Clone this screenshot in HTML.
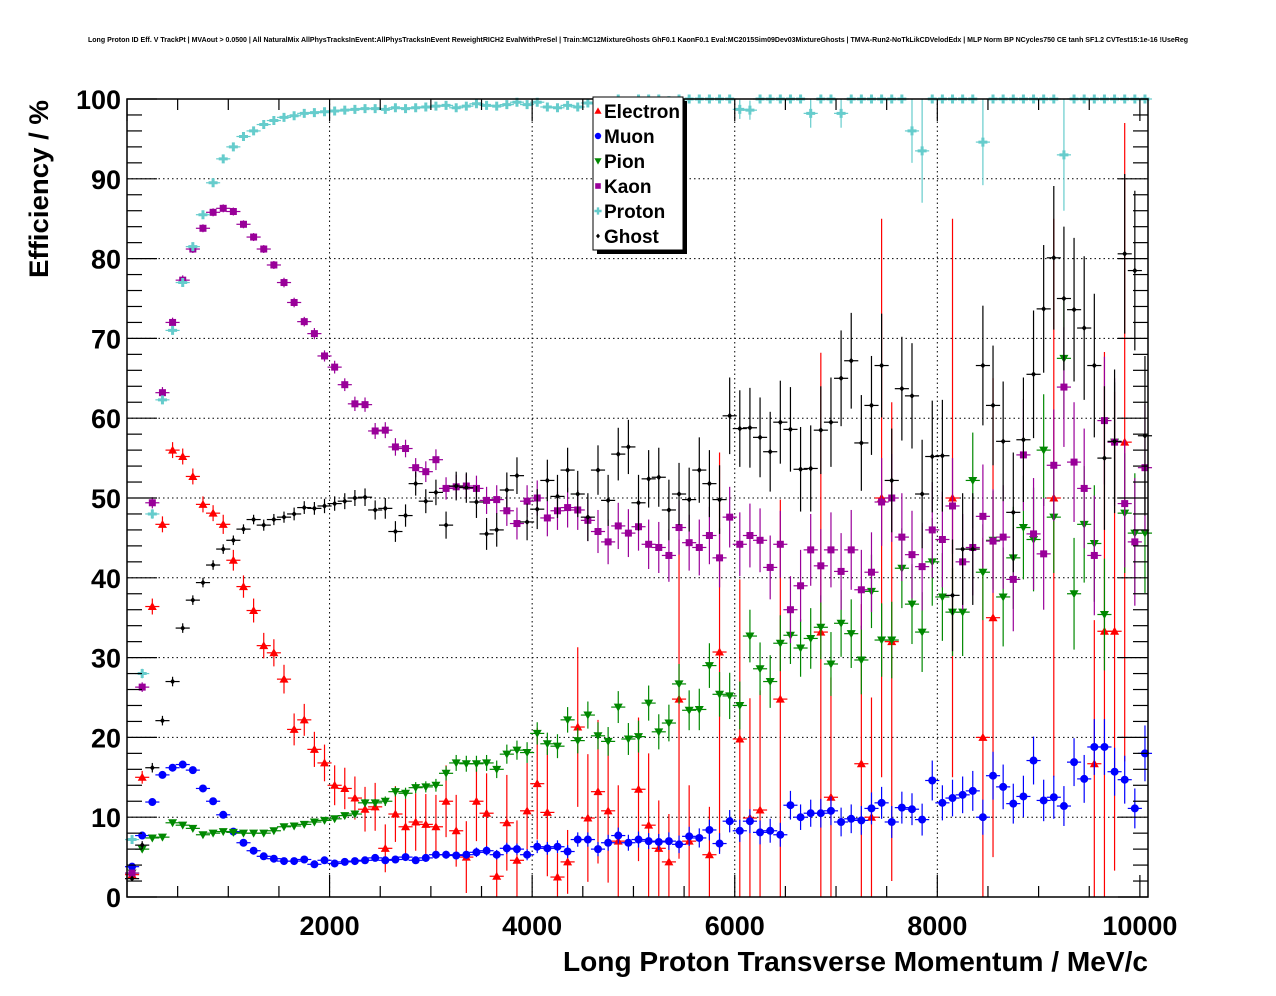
<!DOCTYPE html>
<html><head><meta charset="utf-8"><style>
html,body{margin:0;padding:0;background:#fff;}
svg{display:block;font-family:"Liberation Sans",Arial,sans-serif;}
</style></head><body>
<svg id="chart" width="1276" height="996" viewBox="0 0 1276 996" xmlns="http://www.w3.org/2000/svg">
<rect width="1276" height="996" fill="#fff"/>
<text x="88" y="42" font-size="7" font-weight="bold" textLength="1100" lengthAdjust="spacingAndGlyphs">Long Proton ID Eff. V TrackPt | MVAout &gt; 0.0500 | All NaturalMix AllPhysTracksInEvent:AllPhysTracksInEvent ReweightRICH2 EvalWithPreSel | Train:MC12MixtureGhosts GhF0.1 KaonF0.1 Eval:MC2015Sim09Dev03MixtureGhosts | TMVA-Run2-NoTkLikCDVelodEdx | MLP Norm BP NCycles750 CE tanh SF1.2 CVTest15:1e-16 !UseReg</text>
<g id="grid"></g>
<g id="series"></g>
<rect x="127" y="99" width="1021" height="798" fill="none" stroke="#000" stroke-width="1.5"/>
<g id="axes"></g>
<text transform="translate(48,278) rotate(-90)" font-size="27" font-weight="bold" textLength="178" lengthAdjust="spacingAndGlyphs">Efficiency / %</text>
<text x="563" y="971" font-size="28" font-weight="bold" textLength="585" lengthAdjust="spacingAndGlyphs">Long Proton Transverse Momentum / MeV/c</text>
<g>
<rect x="597" y="101" width="90" height="153" fill="#000"/>
<rect x="593" y="97" width="90" height="153" fill="#fff" stroke="#000" stroke-width="1"/>
<g id="legend-items"></g>
</g>
</svg>
<script>
const X0=127, X1=1148, XMAX=10080, Y0=897, Y1=99;
const sx=v=>X0+(v/XMAX)*(X1-X0);
const sy=v=>Y0-(v/100)*(Y0-Y1);
const NS='http://www.w3.org/2000/svg';

const binCenters=[];for(let i=0;i<101;i++)binCenters.push(50+100*i);
const xTicks=[2000,4000,6000,8000,10000];
const xTickLabels=["2000","4000","6000","8000","10000"];
const yTicks=[0,10,20,30,40,50,60,70,80,90,100];
const yTickLabels=["0","10","20","30","40","50","60","70","80","90","100"];

const electron=[2.8,15,36.4,46.7,56,55.2,52.7,49.2,48.1,46.7,42.2,38.9,35.9,31.5,30.6,27.3,21,22.2,18.5,16.8,14,13.6,12.4,11,11.3,6.1,10.4,8.8,9.4,9.1,8.8,12,8.3,5,12,10.5,2.6,9.3,4.6,10.8,14.2,10.6,2.5,4.4,21.3,9.9,13.2,10.8,7.0,null,13.5,9.0,6.1,4.4,24.8,7.0,null,5.3,30.7,null,19.8,9.9,10.9,null,24.8,null,null,null,33.2,12.5,null,null,16.7,10,50,32,null,null,null,null,null,50,null,null,20,35,null,null,null,null,null,50,null,null,null,16.7,33.3,33.3,57,null,null];
const electronErr=[0.4,0.8,1,1,1,1,1,1,1,1.2,1.3,1.4,1.5,1.6,1.7,1.8,2,2,2.2,2.3,2.5,2.6,2.7,2.8,3,3,3.5,3.5,3.6,3.8,4,4.5,4.5,4.5,5,5,3,6,5,6,7,8,3,4,10,8,9,9,7,0,9,9,6,6,20,7,0,6,25,0,20,15,15,0,25,0,0,0,35,15,0,0,20,15,35,30,0,0,0,0,0,35,0,0,25,30,0,0,0,0,0,35,0,0,0,18,35,30,40,0,0];
const muon=[3.8,7.7,11.9,15.3,16.2,16.6,15.9,13.6,12,10.3,8.2,6.8,5.8,5.1,4.8,4.5,4.5,4.7,4.1,4.6,4.2,4.4,4.5,4.6,4.9,4.6,4.7,5,4.6,4.9,5.3,5.3,5.2,5.3,5.6,5.8,5.3,6.1,6,5.3,6.3,6.1,6.3,5.7,7.2,7.2,6,6.8,7.7,6.8,7.2,7,6.9,7,6.6,7.6,7.4,8.4,6.7,9.5,8.3,9.5,8.1,8.3,7.8,11.5,10,10.5,10.5,10.8,9.4,9.8,9.6,11.1,11.8,9.4,11.2,11,9.7,14.6,11.8,12.4,12.8,13.3,10,15.2,13.8,11.7,12.6,17.1,12.1,12.5,11.4,16.9,14.8,18.8,18.8,15.7,14.7,11.1,18];
const muonErr=[0.3,0.4,0.4,0.4,0.4,0.4,0.4,0.4,0.4,0.3,0.3,0.3,0.3,0.3,0.3,0.3,0.3,0.3,0.3,0.3,0.3,0.3,0.3,0.3,0.4,0.4,0.4,0.4,0.4,0.5,0.5,0.5,0.5,0.5,0.6,0.6,0.6,0.7,0.7,0.7,0.8,0.8,0.8,0.8,0.9,0.9,0.9,1,1,1,1,1,1,1.1,1.1,1.2,1.2,1.3,1.3,1.4,1.4,1.5,1.5,1.5,1.5,1.8,1.6,1.7,1.8,1.8,1.8,1.8,1.8,2,2,2,2,2,2,2.5,2.2,2.3,2.3,2.5,2.2,3,2.8,2.5,2.6,3,2.6,2.7,2.5,3,3,3.5,3.5,3,3,2.5,3.5];
const pion=[3,6,7.4,7.5,9.3,9,8.6,7.8,8,8.2,8.1,8,8,8,8.3,8.8,8.9,9.1,9.4,9.6,9.8,10.2,10.4,11.8,11.8,12,13.2,13,13.7,13.8,14,15.5,16.8,16.7,16.7,16.8,16,17.9,18.4,18.1,20.5,19.2,18.9,22.2,19.6,22.8,20.2,19.5,23.8,19.8,20.1,24.3,20.7,21.8,26.7,23.4,23.5,29,25.4,25.2,24,32.7,28.6,27,31.8,32.8,31.2,32.4,33.8,29.2,34.3,33,29.7,38.3,32.2,32.2,41.2,36.7,33.2,42,37.6,35.7,35.7,52.2,40.7,44.7,37.6,42.5,46.3,44.8,56,47.6,67.5,38,46.7,44.3,35.4,57,48.1,45.6,45.6];
const pionErr=[0.3,0.4,0.4,0.4,0.4,0.4,0.4,0.3,0.3,0.3,0.3,0.3,0.3,0.3,0.3,0.3,0.3,0.3,0.3,0.4,0.4,0.4,0.4,0.5,0.5,0.6,0.6,0.7,0.7,0.7,0.8,0.9,1,1,1,1,1.1,1.2,1.2,1.3,1.4,1.4,1.5,1.6,1.6,1.7,1.7,1.8,2,2,2,2.2,2.2,2.3,2.5,2.5,2.6,2.8,2.8,2.9,3,3.3,3.3,3.3,3.5,3.6,3.6,3.8,4,4,4.2,4.3,4.3,4.6,4.6,4.8,5,5,5,5.5,5.5,5.5,5.5,6,6,6.2,6.2,6.4,6.5,6.5,7,7,7.5,7,7.3,7.3,7,7.5,7.5,7.5,7.5];
const kaon=[3,26.3,49.4,63.2,72,77.3,81.2,83.8,85.8,86.3,85.9,84.3,82.7,81.2,79.2,77,74.5,72.1,70.6,67.8,66.4,64.2,61.8,61.7,58.4,58.5,56.4,56.2,53.8,53.3,54.8,51.2,51.4,51.5,51.2,49.7,49.8,48.4,46.8,49.6,50,47.5,48.4,48.8,48.5,47.2,45.8,44.5,46.5,45.6,46.4,44.2,43.8,42.8,46.3,44.4,43.8,45.3,42.5,47.6,44.2,45.3,44.7,41.3,44.2,36,39,43.5,41.5,43.5,40.8,43.5,38.5,40.7,49.5,50,45.1,42.9,41.4,46,44.8,49,42,43.8,47.7,44.6,45.1,39.8,55.4,45.5,43,54.1,63.9,54.5,51.2,42.8,59.7,57,49.3,44.5,53.8];
const kaonErr=[0.3,0.6,0.7,0.7,0.6,0.6,0.5,0.5,0.5,0.5,0.5,0.5,0.5,0.5,0.5,0.6,0.6,0.6,0.7,0.7,0.8,0.8,0.9,0.9,1,1,1.1,1.1,1.2,1.3,1.3,1.4,1.5,1.5,1.6,1.7,1.8,1.9,2,2,2.2,2.3,2.4,2.5,2.5,2.6,2.7,2.8,2.9,3,3,3.1,3.2,3.3,3.4,3.5,3.5,3.6,3.7,3.8,4,4,4,4,4.2,4.2,4.5,4.5,4.6,4.7,4.8,5,5,5,5.5,5.5,5.5,5.5,5.5,6,6,6,6,6,6.5,6.5,6.5,6.5,7,7,7,7,7.5,7.5,7.5,7.5,8,8,8,8,8];
const proton=[7.2,28,48,62.3,71,77,81.5,85.5,89.5,92.5,94,95.3,96,96.8,97.3,97.7,97.9,98.2,98.3,98.4,98.5,98.6,98.7,98.8,98.8,98.7,98.9,98.8,98.9,99,99.1,99.2,98.9,99.1,99.4,99.2,99.1,99.3,99.6,99.3,99.6,99,98.9,99.2,99,99.5,99.4,99.7,100,99.6,100,100,100,99.8,100,100,100,100,100,100,98.7,98.6,100,100,100,100,100,98.2,100,100,98.2,100,100,100,100,100,100,96,93.5,100,100,100,100,100,94.6,100,100,100,100,100,100,100,93,100,100,100,100,100,100,100,100];
const protonErr=[0.4,0.6,0.6,0.5,0.4,0.4,0.3,0.3,0.2,0.2,0.2,0.2,0.2,0.2,0.2,0.2,0.2,0.2,0.2,0.2,0.2,0.2,0.2,0.2,0.2,0.2,0.2,0.2,0.2,0.2,0.2,0.2,0.3,0.3,0.3,0.3,0.3,0.3,0.3,0.3,0.3,0.4,0.4,0.4,0.4,0.4,0.4,0.4,0,0.4,0,0,0,0.5,0,0,0,0,0,0,1.2,1.2,0,0,0,0,0,1.8,0,0,1.8,0,0,0,0,0,0,4,6.5,0,0,0,0,0,5.4,0,0,0,0,0,0,0,7,0,0,0,0,0,0,0,0];
const ghost=[2.3,6.5,16.2,22.1,27,33.7,37.2,39.4,41.6,43.6,44.7,46.1,47.3,46.6,47.3,47.6,48,48.8,48.7,49,49.3,49.6,50,50.1,48.5,48.7,45.8,47.8,51.8,49.6,50.7,46.6,51.5,51.3,49.5,45.5,46,51,52.8,47,48.6,52.2,50.2,53.5,50.5,47.6,53.5,49.7,55.5,56.4,49.4,52.4,52.6,48.5,50.5,49.8,53.5,51.8,49.8,60.3,58.7,58.8,57.6,55.8,59.5,58.6,53.6,53.7,58.5,59.5,65,67.2,56.9,61.6,66.6,52.2,63.7,62.8,50.5,55.2,55.3,37.8,43.6,43.6,66.6,61.6,57.1,48.2,57.3,65.5,73.7,80.1,75,73.6,71.3,66.6,55,57.1,80.6,78.5,57.8];
const ghostErr=[0.3,0.5,0.6,0.6,0.6,0.6,0.6,0.6,0.6,0.6,0.6,0.6,0.6,0.7,0.7,0.7,0.8,0.8,0.8,0.9,0.9,1,1,1.1,1.2,1.3,1.3,1.4,1.5,1.5,1.6,1.7,1.8,1.9,2,2,2.1,2.2,2.3,2.3,2.5,2.6,2.7,2.8,2.9,3,3.1,3.2,3.3,3.4,3.5,3.6,3.7,3.8,3.9,4,4.1,4.2,4.3,4.8,4.8,5,5,5,5.2,5.3,5.3,5.4,5.5,5.6,6,6,6,6.2,6.5,6.5,6.5,6.6,6.8,7,7,7,7,7,7.5,7.5,7.5,7.5,7.8,8,8,9,9,9,9,9,9,9,10,10,10];

const svg=document.getElementById('chart');
const grid=document.getElementById('grid');
const axes=document.getElementById('axes');
function mk(tag,attrs,parent){const e=document.createElementNS(NS,tag);for(const k in attrs)e.setAttribute(k,attrs[k]);parent.appendChild(e);return e;}

xTicks.forEach(t=>{if(t<XMAX-100){const l=mk('line',{x1:sx(t),x2:sx(t),y1:Y1,y2:Y0,stroke:'#000','stroke-width':1,'stroke-dasharray':'1.5,3'},grid);

}});
yTicks.forEach(t=>{if(t>0&&t<100){const l=mk('line',{x1:X0,x2:X1,y1:sy(t),y2:sy(t),stroke:'#000','stroke-width':1,'stroke-dasharray':'1.5,3'},grid);

}});

for(let v=0;v<=XMAX;v+=500){const major=v%2000===0;const len=major?22:11;
mk('line',{x1:sx(v),x2:sx(v),y1:Y0,y2:Y0-len,stroke:'#000','stroke-width':1.2},axes);
mk('line',{x1:sx(v),x2:sx(v),y1:Y1,y2:Y1+len,stroke:'#000','stroke-width':1.2},axes);}
for(let v=0;v<=100;v+=2){const major=v%10===0;const len=major?30:15;
mk('line',{x1:X0,x2:X0+len,y1:sy(v),y2:sy(v),stroke:'#000','stroke-width':1.2},axes);
mk('line',{x1:X1,x2:X1-len,y1:sy(v),y2:sy(v),stroke:'#000','stroke-width':1.2},axes);}
xTicks.forEach((t,i)=>{const tx=mk('text',{x:sx(t),y:935,'font-size':27,'font-weight':'bold','text-anchor':'middle'},axes);tx.textContent=xTickLabels[i];

});
yTicks.forEach((t,i)=>{const tx=mk('text',{x:121,y:sy(t)+10,'font-size':27,'font-weight':'bold','text-anchor':'end'},axes);tx.textContent=yTickLabels[i];

});

function marker(type,cx,cy,color,parent,s){s=s||1;
 if(type==='tri') return mk('polygon',{points:`${cx},${cy-4.5*s} ${cx-4.5*s},${cy+3.5*s} ${cx+4.5*s},${cy+3.5*s}`,fill:color},parent);
 if(type==='tridown') return mk('polygon',{points:`${cx},${cy+4.5*s} ${cx-4.5*s},${cy-3.5*s} ${cx+4.5*s},${cy-3.5*s}`,fill:color},parent);
 if(type==='circ') return mk('circle',{cx:cx,cy:cy,r:4*s,fill:color},parent);
 if(type==='sq') return mk('rect',{x:cx-3.5*s,y:cy-3.5*s,width:7*s,height:7*s,fill:color},parent);
 if(type==='cross') return mk('path',{d:`M${cx-4.5*s},${cy-1.5*s}h${3*s}v${-3*s}h${3*s}v${3*s}h${3*s}v${3*s}h${-3*s}v${3*s}h${-3*s}v${-3*s}h${-3*s}z`,fill:color},parent);
 return mk('path',{d:`M${cx},${cy-3*s}L${cx+2.5*s},${cy}L${cx},${cy+3*s}L${cx-2.5*s},${cy}z`,fill:color},parent);
}

const seriesDefs=[
 {name:'electron',vals:electron,err:electronErr,color:'#ff0000',m:'tri',label:'Electron'},
 {name:'muon',vals:muon,err:muonErr,color:'#0000ff',m:'circ',label:'Muon'},
 {name:'pion',vals:pion,err:pionErr,color:'#008800',m:'tridown',label:'Pion'},
 {name:'kaon',vals:kaon,err:kaonErr,color:'#990099',m:'sq',label:'Kaon'},
 {name:'proton',vals:proton,err:protonErr,color:'#66cccc',m:'cross',label:'Proton'},
 {name:'ghost',vals:ghost,err:ghostErr,color:'#000000',m:'dia',label:'Ghost'}];
const sg=document.getElementById('series');
seriesDefs.forEach(s=>{
 const g=mk('g',{},sg);
 
 
 s.vals.forEach((v,i)=>{ if(v===null||v===undefined) return;
  const cx=sx(binCenters[i]), cy=sy(v), e=s.err[i]||0;
  const hw=(sx(100)-sx(0))/2+2;
  mk('line',{x1:cx-hw,x2:cx+hw,y1:cy,y2:cy,stroke:s.color,'stroke-width':1.2},g);
  if(e>0) mk('line',{x1:cx,x2:cx,y1:Math.max(Y1,sy(Math.min(100,v+e))),y2:Math.min(Y0,sy(Math.max(0,v-e))),stroke:s.color,'stroke-width':1.2},g);
  const mm=marker(s.m,cx,cy,s.color,g);
  
  
 });
});
const li=document.getElementById('legend-items');
seriesDefs.forEach((s,i)=>{const y=111+i*25;
 const g=mk('g',{},li);
 
 
 marker(s.m,598,y,s.color,g,0.8);
 const t=mk('text',{x:604,y:y+7,'font-size':19,'font-weight':'bold'},g);t.textContent=s.label;});
</script>
</body></html>
